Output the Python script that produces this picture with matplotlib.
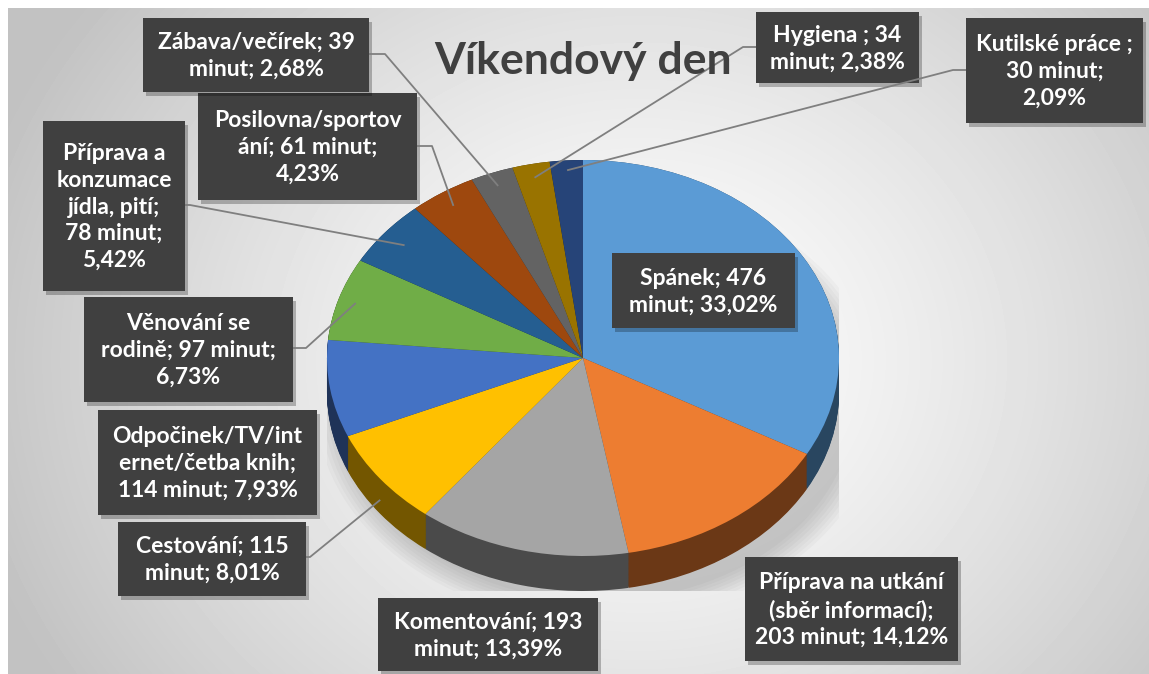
import numpy as np
import matplotlib
matplotlib.use("Agg")
import matplotlib.pyplot as plt
from matplotlib.patches import Rectangle, Ellipse
from matplotlib.colors import to_rgb

# data (minutes per activity on a weekend day)
categories = ["Spánek", "Příprava na utkání (sběr informací)", "Komentování",
              "Cestování", "Odpočinek/TV/internet/četba knih",
              "Věnování se rodině", "Příprava a konzumace jídla, pití",
              "Posilovna/sportování", "Zábava/večírek", "Hygiena",
              "Kutilské práce"]
minutes = [476, 203, 193, 115, 114, 97, 78, 61, 39, 34, 30]
shares = ["33,02%", "14,12%", "13,39%", "8,01%", "7,93%", "6,73%",
          "5,42%", "4,23%", "2,68%", "2,38%", "2,09%"]
label_texts = [
    "Spánek; 476\nminut; 33,02%",
    "Příprava na utkání\n(sběr informací);\n203 minut; 14,12%",
    "Komentování; 193\nminut; 13,39%",
    "Cestování; 115\nminut; 8,01%",
    "Odpočinek/TV/int\nernet/četba knih;\n114 minut; 7,93%",
    "Věnování se\nrodině; 97 minut;\n6,73%",
    "Příprava a\nkonzumace\njídla, pití;\n78 minut;\n5,42%",
    "Posilovna/sportov\nání; 61 minut;\n4,23%",
    "Zábava/večírek; 39\nminut; 2,68%",
    "Hygiena ; 34\nminut; 2,38%",
    "Kutilské práce ;\n30 minut;\n2,09%",
]
title = "Víkendový den"

colors = ["#5B9BD5", "#ED7D31", "#A5A5A5", "#FFC000", "#4472C4", "#70AD47",
          "#255E91", "#9E480E", "#636363", "#997300", "#264478"]

# layout in pixels (x0, y0, x1, y1), y from the top
boxes = [(612, 253, 795, 328), (745, 557, 958, 661), (378, 598, 598, 671),
         (118, 522, 306, 596), (98, 410, 317, 515), (84, 297, 293, 402),
         (43, 121, 185, 291), (198, 93, 417, 200), (143, 18, 369, 92),
         (756, 12, 919, 83), (966, 18, 1143, 123)]
# leader: (start, elbow, radius factor, drop as fraction of depth)
leaders = {3: ((306, 557), (310, 557), 1.0, 0.6),
           5: ((293, 348), (306, 348), 0.93, 0.0),
           6: ((185, 205), (190, 205), 0.9, 0.0),
           7: ((417, 146), (432, 146), 0.92, 0.0),
           8: ((369, 54), (385, 54), 0.93, 0.0),
           9: ((756, 47), (743, 47), 0.93, 0.0),
           10: ((966, 70), (953, 70), 0.95, 0.0)}

W, H = 1149, 674
cx, cy, rx, ry, depth = 583, 358, 256, 198, 35
dd = depth / ry

plt.rcParams["font.family"] = ["Lato", "DejaVu Sans"]

fig = plt.figure(figsize=(W / 100, H / 100), dpi=100, facecolor="white")

# background with radial gradient
bg = fig.add_axes([0, 0, 1, 1])
bg.set_xlim(0, W)
bg.set_ylim(H, 0)
bg.axis("off")
yy, xx = np.mgrid[8:H, 8:W]
d = np.sqrt(((xx - 640) / 600.0) ** 2 + ((yy - 360) / 520.0) ** 2)
val = np.clip(1 - 0.2 * d ** 1.3, 0.76, 1.0)
bg.imshow(val, cmap="gray", vmin=0, vmax=1, extent=(8, W, H, 8),
          interpolation="bilinear", aspect="auto")

# pie axes (elliptic because aspect is auto)
pax = fig.add_axes([(cx - rx) / W, (H - (cy + ry + depth)) / H,
                    2 * rx / W, (2 * ry + depth) / H])
pax.set_facecolor("none")


def darker(c, f):
    r, g, b = to_rgb(c)
    return (r * f, g * f, b * f)


side_colors = [darker(c, 0.45) for c in colors]

# soft shadow
for k in range(8):
    pax.add_patch(Ellipse((0.06, -dd - 0.05), 2.0 + 0.03 * k,
                          2.0 + 0.03 * k, color="black", alpha=0.025, lw=0))

for k in range(40):
    off = -dd + dd * k / 39.0
    pax.pie(minutes, colors=side_colors, startangle=90, counterclock=False,
            center=(0, off), radius=1.0, wedgeprops=dict(linewidth=0))
pax.pie(minutes, colors=colors, startangle=90, counterclock=False,
        center=(0, 0), radius=1.0, wedgeprops=dict(linewidth=0))
pax.set_aspect("auto")
pax.set_xlim(-1, 1)
pax.set_ylim(-1 - dd, 1)
pax.axis("off")

# overlay axes for labels
ax = fig.add_axes([0, 0, 1, 1])
ax.set_xlim(0, W)
ax.set_ylim(H, 0)
ax.axis("off")
ax.set_facecolor("none")

ax.text(cx, 74, title, ha="center", va="baseline", fontsize=32,
        fontweight="bold", color="#404040")

total = float(sum(minutes))
cum = np.cumsum([0] + minutes)
to_px = pax.transData + ax.transData.inverted()
for i, txt in enumerate(label_texts):
    if i in leaders:
        p0, p1, rf, drop = leaders[i]
        mid = (cum[i] + minutes[i] / 2.0) / total
        ang = np.pi / 2 - 2 * np.pi * mid
        px, py = to_px.transform((rf * np.cos(ang),
                                  rf * np.sin(ang) - drop * dd))
        ax.plot([p0[0], p1[0], px], [p0[1], p1[1], py], color="#7f7f7f",
                lw=1.3, solid_capstyle="butt")
    x0, y0, x1, y1 = boxes[i]
    ax.add_patch(Rectangle((x0 + 3, y0 + 4), x1 - x0, y1 - y0,
                           color="black", alpha=0.25, lw=0))
    ax.add_patch(Rectangle((x0, y0), x1 - x0, y1 - y0,
                           facecolor="#404040", lw=0))
    ax.text((x0 + x1) / 2, (y0 + y1) / 2 + 1, txt, ha="center",
            va="center", fontsize=16.5, fontweight="bold", color="white",
            linespacing=1.33)

fig.savefig("out.png", dpi=100, facecolor="white")
